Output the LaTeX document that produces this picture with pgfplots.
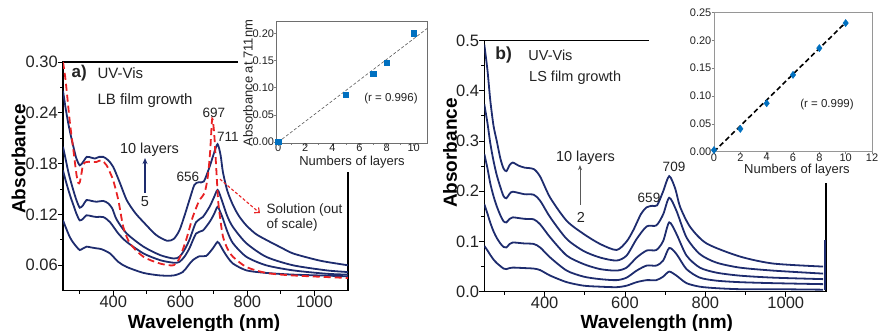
\documentclass[border=0pt]{standalone}
\usepackage{fontspec}
\setmainfont{Liberation Sans}
\usepackage{pgfplots}
\pgfplotsset{compat=1.18}
\usetikzlibrary{arrows.meta}

\definecolor{navy}{RGB}{30,44,110}
\definecolor{solred}{RGB}{232,34,36}
\definecolor{ptblue}{RGB}{0,112,192}
\definecolor{insetbox}{RGB}{110,110,110}
\definecolor{insetboxb}{RGB}{150,150,150}
\definecolor{txt}{RGB}{35,35,35}

\newcommand{\fs}[1]{\fontsize{#1pt}{#1pt}\selectfont}

\pgfplotsset{
  spec/.style={navy, line width=1.8pt, smooth, tension=0.45, mark=none},
  spectrum/.style={
    scale only axis,
    xmin=250, xmax=1100,
    axis line style={line width=1.1pt},
    tick style={line width=0.9pt, black},
    tick align=outside, tick pos=left,
    major tick length=5pt, minor tick length=3pt,
    xtick={400,600,800,1000}, xticklabels={400,600,800,1000},
    minor xtick={300,500,700,900},
    /pgf/number format/assume math mode=true,
    tick label style={font=\fs{16.5}, inner sep=0pt, text=txt},
    xlabel={Wavelength (nm)}, ylabel={Absorbance},
  },
  layers/.style={
    scale only axis,
    axis background/.style={fill=white},
    tick align=outside, tick pos=left,
    major tick length=2.5pt, minor tick length=1.5pt,
    tick style={line width=0.6pt},
    /pgf/number format/assume math mode=true,
    tick label style={font=\fs{11}, inner sep=0pt, text=txt},
    clip=false,
  },
}

\begin{document}
\begin{tikzpicture}

% ---------------- panel a): LB films ----------------
\begin{axis}[spectrum,
  at={(63pt,40.3pt)}, anchor=south west,
  width=285pt, height=228.7pt,
  ymin=0.03, ymax=0.30,
  ytick={0.06,0.12,0.18,0.24,0.30}, yticklabels={0.06,0.12,0.18,0.24,0.30},
  minor ytick={0.09,0.15,0.21,0.27},
  every axis y label/.style={at={(rel axis cs:-0.156,0.576)}, rotate=90, anchor=center, font=\bfseries\fs{19}},
  every axis x label/.style={at={(rel axis cs:0.495,-0.166)}, anchor=base, font=\bfseries\fs{19}},
]
% 10 layers
\addplot[spec] coordinates {(250,0.266) (258,0.245) (266,0.227) (274,0.212) (281,0.200) (290,0.186) (300,0.178) (310,0.182) (321,0.188) (335,0.187) (345,0.186) (358,0.188) (370,0.188) (385,0.184) (400,0.176) (420,0.157) (440,0.137) (465,0.122) (490,0.111) (527,0.096) (560,0.089) (580,0.091) (597,0.101) (612,0.118) (627,0.137) (642,0.155) (655,0.158) (670,0.159) (687,0.176) (700,0.192) (711,0.203) (720,0.190) (727,0.170) (740,0.148) (757,0.131) (775,0.118) (797,0.107) (825,0.097) (856,0.090) (900,0.081) (936,0.074) (1000,0.067) (1036,0.064) (1100,0.060)};
% 8 layers
\addplot[spec] coordinates {(250,0.200) (258,0.185) (266,0.170) (274,0.158) (282,0.147) (290,0.137) (300,0.128) (310,0.131) (320,0.137) (335,0.136) (350,0.135) (370,0.136) (385,0.133) (397,0.127) (410,0.114) (440,0.0975) (490,0.082) (540,0.072) (580,0.068) (597,0.070) (612,0.078) (627,0.090) (647,0.111) (667,0.117) (687,0.129) (700,0.140) (711,0.149) (720,0.141) (727,0.133) (740,0.118) (757,0.105) (797,0.086) (856,0.070) (936,0.060) (1036,0.054) (1100,0.052)};
% 7 layers
\addplot[spec] coordinates {(250,0.172) (258,0.160) (266,0.149) (274,0.139) (282,0.130) (290,0.121) (300,0.113) (310,0.115) (320,0.119) (335,0.118) (350,0.117) (370,0.117) (390,0.111) (415,0.0975) (440,0.0876) (490,0.074) (540,0.066) (580,0.063) (597,0.064) (612,0.070) (627,0.080) (647,0.0975) (667,0.101) (687,0.111) (700,0.120) (711,0.129) (720,0.122) (727,0.115) (740,0.100) (757,0.086) (797,0.070) (856,0.060) (936,0.054) (1036,0.050) (1100,0.049)};
% 5 layers
\addplot[spec] coordinates {(250,0.113) (260,0.103) (270,0.0935) (280,0.087) (290,0.082) (300,0.078) (310,0.080) (320,0.082) (335,0.081) (350,0.080) (365,0.079) (390,0.074) (415,0.064) (440,0.058) (490,0.051) (540,0.048) (580,0.048) (607,0.052) (622,0.059) (637,0.066) (657,0.0707) (677,0.071) (697,0.080) (711,0.0876) (720,0.083) (727,0.078) (740,0.070) (757,0.062) (797,0.054) (856,0.051) (936,0.049) (1100,0.047)};
% solution spectrum
\addplot[spec, solred, dash pattern=on 7pt off 4pt] coordinates {(250,0.300) (256,0.284) (261,0.266) (266,0.246) (271,0.227) (276,0.211) (281,0.196) (286,0.180) (291,0.165) (296,0.157) (300,0.158) (305,0.168) (310,0.179) (320,0.182) (335,0.182) (350,0.182) (365,0.184) (380,0.178) (392,0.168) (400,0.160) (415,0.137) (430,0.105) (450,0.0857) (490,0.070) (540,0.062) (580,0.060) (597,0.068) (617,0.0896) (637,0.117) (657,0.137) (672,0.145) (682,0.165) (689,0.195) (695,0.233) (701,0.215) (707,0.175) (713,0.135) (720,0.112) (727,0.094) (740,0.080) (757,0.070) (797,0.058) (856,0.051) (936,0.048) (1100,0.045)};

\node[anchor=base west, font=\bfseries\fs{17}, text=txt] at (axis cs:265,0.2820) {a)};
\node[anchor=base west, font=\fs{15}, text=txt] at (axis cs:342.5,0.2808) {UV-Vis};
\node[anchor=base west, font=\fs{15}, text=txt] at (axis cs:342.5,0.2504) {LB film growth};
\node[anchor=base, font=\fs{14.5}, text=txt] at (axis cs:508,0.1916) {10 layers};
\node[anchor=base, font=\fs{14.5}, text=txt] at (axis cs:494.6,0.129) {5};
\draw[navy, line width=1.4pt, -{Stealth[length=6pt,width=5pt]}] (axis cs:494.6,0.1452) -- (axis cs:494.6,0.1866);
\node[anchor=base, font=\fs{13.5}, text=txt] at (axis cs:700,0.2347) {697};
\node[anchor=base, font=\fs{13.5}, text=txt] at (axis cs:742,0.2058) {711};
\node[anchor=base, font=\fs{13.5}, text=txt] at (axis cs:622.8,0.1585) {656};
\draw[solred, line width=1.1pt, dash pattern=on 3pt off 2pt, -{Straight Barb[length=4pt,width=7pt]}] (axis cs:718.2,0.1617) -- (axis cs:837.5,0.1215);
\node[anchor=base west, font=\fs{13.5}, text=txt] at (axis cs:847,0.1207) {Solution (out};
\node[anchor=base west, font=\fs{13.5}, text=txt] at (axis cs:847,0.1038) {of scale)};
\end{axis}

\fill[white] (238pt,159pt) rectangle (440pt,331pt);

\begin{axis}[layers,
  at={(276.7pt,187.7pt)}, anchor=south west,
  width=150.6pt, height=122.3pt,
  xmin=-0.1, xmax=11, ymin=-0.002, ymax=0.2225,
  axis line style={insetbox, line width=0.8pt},
  xtick={0,2,4,6,8,10}, minor xtick={1,3,5,7,9},
  ytick={0,0.05,0.10,0.15,0.20}, yticklabels={0.00,0.05,0.10,0.15,0.20},
  xticklabel style={yshift=2pt},
  xlabel={Numbers of layers}, ylabel={Absorbance at 711nm},
  every axis y label/.style={at={(rel axis cs:-0.19,0.493)}, rotate=90, anchor=center, font=\fs{13}, text=txt},
  every axis x label/.style={at={(rel axis cs:0.5,-0.153)}, anchor=center, font=\fs{13}, text=txt},
]
\addplot[densely dashed, gray!70!black, line width=0.6pt] coordinates {(0,0.000) (11,0.209)};
\addplot[only marks, mark=square*, mark size=2.7pt, ptblue] coordinates {(0,0.001) (5,0.087) (7,0.126) (8,0.146) (10,0.200)};
\node[font=\fs{11.5}, text=txt] at (axis cs:8.32,0.081) {(r = 0.996)};
\end{axis}

% ---------------- panel b): LS films ----------------
\begin{axis}[spectrum,
  at={(484.3pt,39.3pt)}, anchor=south west,
  width=341.7pt, height=251.2pt,
  ymin=0, ymax=0.5,
  ytick={0,0.1,0.2,0.3,0.4,0.5}, yticklabels={0.0,0.1,0.2,0.3,0.4,0.5},
  minor ytick={0.05,0.15,0.25,0.35,0.45},
  every axis y label/.style={at={(rel axis cs:-0.100,0.552)}, rotate=90, anchor=center, font=\bfseries\fs{19}},
  every axis x label/.style={at={(rel axis cs:0.505,-0.147)}, anchor=base, font=\bfseries\fs{19}},
]
% 10 layers
\addplot[spec] coordinates {(250,0.492) (258,0.440) (265,0.380) (273,0.330) (281,0.300) (290,0.265) (298,0.245) (305,0.240) (313,0.252) (321,0.257) (335,0.251) (350,0.247) (373,0.244) (389,0.229) (414,0.187) (455,0.141) (497,0.115) (538,0.095) (579,0.083) (604,0.100) (621,0.123) (640,0.155) (654,0.168) (668,0.171) (680,0.172) (695,0.200) (710,0.230) (725,0.205) (737,0.169) (762,0.129) (803,0.096) (886,0.070) (969,0.056) (1093,0.050)};
% 8 layers
\addplot[spec] coordinates {(250,0.373) (258,0.335) (265,0.295) (273,0.260) (281,0.232) (290,0.208) (298,0.190) (305,0.186) (313,0.195) (321,0.199) (350,0.194) (373,0.193) (389,0.181) (414,0.148) (455,0.105) (497,0.081) (538,0.068) (579,0.062) (604,0.072) (629,0.105) (654,0.130) (678,0.132) (695,0.154) (710,0.187) (728,0.161) (753,0.108) (786,0.075) (827,0.058) (885,0.048) (968,0.042) (1093,0.036)};
% 6 layers
\addplot[spec] coordinates {(250,0.274) (258,0.245) (265,0.215) (273,0.190) (281,0.170) (290,0.152) (298,0.140) (305,0.138) (313,0.145) (321,0.148) (350,0.145) (373,0.144) (389,0.134) (414,0.108) (455,0.072) (497,0.055) (538,0.045) (579,0.042) (604,0.048) (629,0.068) (654,0.082) (678,0.083) (695,0.101) (710,0.138) (728,0.115) (753,0.072) (786,0.048) (827,0.038) (885,0.032) (968,0.028) (1093,0.025)};
% 4 layers
\addplot[spec] coordinates {(250,0.174) (258,0.155) (265,0.137) (273,0.120) (281,0.107) (290,0.096) (298,0.089) (305,0.088) (313,0.095) (321,0.098) (350,0.096) (373,0.095) (389,0.088) (414,0.068) (455,0.042) (497,0.030) (538,0.025) (579,0.023) (604,0.028) (629,0.042) (654,0.052) (678,0.052) (695,0.062) (710,0.087) (728,0.075) (753,0.045) (786,0.028) (827,0.022) (885,0.019) (968,0.017) (1093,0.015)};
% 2 layers
\addplot[spec] coordinates {(250,0.091) (258,0.082) (265,0.073) (273,0.064) (281,0.057) (290,0.051) (298,0.046) (305,0.045) (313,0.047) (321,0.048) (350,0.047) (373,0.046) (389,0.043) (414,0.032) (455,0.019) (497,0.012) (538,0.010) (579,0.009) (604,0.012) (629,0.019) (654,0.023) (678,0.023) (695,0.030) (710,0.040) (728,0.032) (753,0.017) (786,0.010) (827,0.007) (885,0.005) (968,0.005) (1093,0.004)};
% detector changeover artefact at the end of the scan
\addplot[spec, sharp plot] coordinates {(1098,0.004) (1098,0.103)};

\node[anchor=base west, font=\bfseries\fs{17.5}, text=txt] at (axis cs:269,0.4626) {b)};
\node[anchor=base west, font=\fs{14.5}, text=txt] at (axis cs:351,0.4592) {UV-Vis};
\node[anchor=base west, font=\fs{14.5}, text=txt] at (axis cs:353,0.418) {LS film growth};
\node[anchor=base, font=\fs{14.5}, text=txt] at (axis cs:501.7,0.260) {10 layers};
\node[anchor=base, font=\fs{14.5}, text=txt] at (axis cs:490.5,0.1373) {2};
\draw[gray!70!black, line width=0.8pt, -{Stealth[length=5pt,width=4pt]}] (axis cs:488,0.1726) -- (axis cs:488,0.252);
\node[anchor=base, font=\fs{13.5}, text=txt] at (axis cs:721.9,0.2389) {709};
\node[anchor=base, font=\fs{13.5}, text=txt] at (axis cs:659.7,0.178) {659};
\end{axis}

\fill[white] (649pt,331pt) -- (881pt,331pt) -- (881pt,148pt) -- (735pt,148pt) -- (735pt,171pt) -- (649pt,171pt) -- cycle;

\begin{axis}[layers,
  at={(714pt,179.3pt)}, anchor=south west,
  width=158pt, height=139.2pt,
  xmin=0, xmax=12, ymin=0, ymax=0.25,
  axis line style={insetboxb, line width=0.8pt},
  xtick={0,2,4,6,8,10,12},
  ytick={0,0.05,0.10,0.15,0.20,0.25}, yticklabels={0.00,0.05,0.10,0.15,0.20,0.25},
  xticklabel style={yshift=1pt},
  xlabel={Numbers of layers},
  every axis x label/.style={at={(rel axis cs:0.525,-0.131)}, anchor=center, font=\fs{13}, text=txt},
]
\addplot[black, line width=1.6pt, dash pattern=on 5pt off 3pt] coordinates {(0,0.000) (10,0.232)};
\addplot[only marks, mark=diamond*, mark size=3.6pt, ptblue] coordinates {(0,0.003) (2,0.041) (4,0.087) (6,0.138) (8,0.186) (10,0.231)};
\node[font=\fs{11.5}, text=txt] at (axis cs:8.58,0.0839) {(r = 0.999)};
\end{axis}

\pgfresetboundingbox
\path[use as bounding box] (0pt,0pt) rectangle (881pt,331pt);
\end{tikzpicture}
\end{document}
